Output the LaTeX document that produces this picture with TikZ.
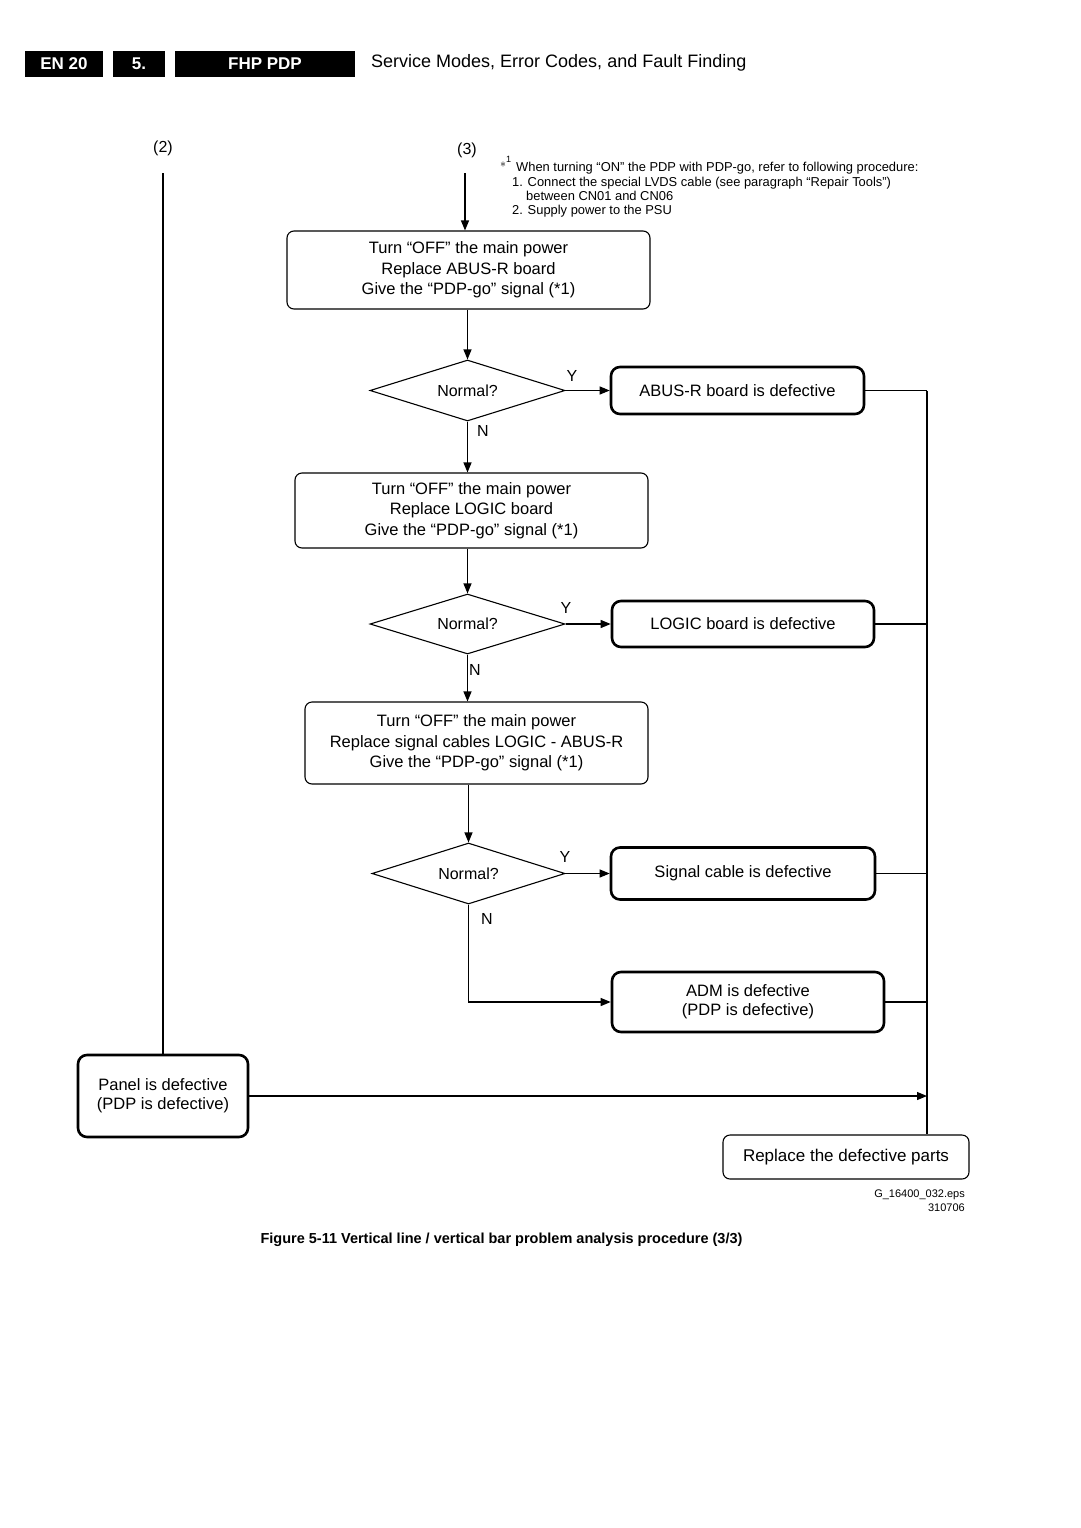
\documentclass[tikz,border=0pt]{standalone}
\usepackage{fontspec}
\setmainfont{Liberation Sans}
\usetikzlibrary{shapes.geometric,arrows.meta}
\tikzset{
  proc/.style={draw, rounded corners=7pt, line width=1.1pt, align=center, inner sep=0pt, font=\fontsize{16.5}{20.5}\selectfont},
  result/.style={draw, rounded corners=9pt, line width=2.6pt, align=center, inner sep=0pt, font=\fontsize{16.5}{19}\selectfont},
  decision/.style={draw, diamond, aspect=3.2, line width=1.1pt, inner sep=0pt, minimum width=195pt, minimum height=61pt, font=\fontsize{16}{19}\selectfont},
  arr/.style={-{Triangle[length=10pt,width=8pt]}, line width=1.1pt},
  ln/.style={line width=1.1pt},
  yn/.style={inner sep=0pt, font=\fontsize{16}{19}\selectfont},
  hdr/.style={fill=black, text=white, inner sep=0pt, minimum height=26pt, font=\fontsize{17}{19}\selectfont\bfseries},
  note/.style={inner sep=0pt, anchor=base west, font=\fontsize{12.9}{15}\selectfont},
}
\begin{document}
\begin{tikzpicture}[x=1pt,y=-1pt]
\fill [white] (0,0) rectangle (1080,1528);
\useasboundingbox (0,0) rectangle (1080,1528);
\node [hdr, minimum width=78pt] (en) at (64,64) {EN 20};
\node [hdr, minimum width=52pt] (sec) at (139,64) {5.};
\node [hdr, minimum width=180pt] (fhp) at (265,64) {FHP PDP};
\node [anchor=west, inner sep=0pt, font=\fontsize{18}{20}\selectfont] (title) at (371,63) {Service Modes, Error Codes, and Fault Finding};
\node [inner sep=0pt, font=\fontsize{13}{15}\selectfont] (star) at (506,162) {$\ast$\textsuperscript{1}};
\node [note] (fn1) at (516,171) {When turning “ON” the PDP with PDP-go, refer to following procedure:};
\node [note] (fn2) at (512,186) {1. Connect the special LVDS cable (see paragraph “Repair Tools”)};
\node [note] (fn3) at (526,200) {between CN01 and CN06};
\node [note] (fn4) at (512,214) {2. Supply power to the PSU};
\node [yn] (l2) at (163,148) {(2)};
\node [yn] (l3) at (467,150) {(3)};
\coordinate (s2) at (163,173);
\coordinate (s3) at (465,173);
\node [proc, minimum width=363pt, minimum height=78pt] (b1) at (468.5,270) {Turn “OFF” the main power\\Replace ABUS-R board\\Give the “PDP-go” signal (*1)};
\node [decision] (d1) at (467.5,390.5) {Normal?};
\node [result, minimum width=253pt, minimum height=47pt] (r1) at (737.5,390.5) {ABUS-R board is defective};
\node [proc, minimum width=353pt, minimum height=75pt] (b2) at (471.5,510.5) {Turn “OFF” the main power\\Replace LOGIC board\\Give the “PDP-go” signal (*1)};
\node [decision, minimum height=60pt] (d2) at (467.5,624) {Normal?};
\node [result, minimum width=262pt, minimum height=46pt] (r2) at (743,624) {LOGIC board is defective};
\node [proc, minimum width=343pt, minimum height=82pt] (b3) at (476.5,743) {Turn “OFF” the main power\\Replace signal cables LOGIC - ABUS-R\\Give the “PDP-go” signal (*1)};
\node [decision, minimum width=193pt] (d3) at (468.5,873.5) {Normal?};
\node [result, minimum width=264pt, minimum height=52pt] (r3) at (743,873.5) {Signal cable is defective};
\node [result, minimum width=272pt, minimum height=60pt] (r4) at (748,1002) {ADM is defective\\(PDP is defective)};
\node [result, minimum width=170pt, minimum height=82pt] (panel) at (163,1096) {Panel is defective\\(PDP is defective)};
\node [proc, minimum width=246pt, minimum height=44pt, font=\fontsize{17}{20}\selectfont] (fix) at (846,1157) {Replace the defective parts};
\node [yn] (y1) at (572,376) {Y};
\node [yn] (no1) at (483,431) {N};
\node [yn] (y2) at (566,608) {Y};
\node [yn] (no2) at (475,670) {N};
\node [yn] (y3) at (565,857) {Y};
\node [yn] (no3) at (487,919) {N};
\draw [ln] (s2) -- (panel.north);
\draw [arr] (s3) -- (s3 |- b1.north);
\draw [arr] (b1.south -| d1) -- (d1.north);
\draw [arr] (d1.east) -- (r1.west);
\draw [arr] (d1.south) -- (d1.south |- b2.north);
\draw [arr] (b2.south -| d2) -- (d2.north);
\draw [arr] (d2.east) -- (r2.west);
\draw [arr] (d2.south) -- (d2.south |- b3.north);
\draw [arr] (b3.south -| d3) -- (d3.north);
\draw [arr] (d3.east) -- (r3.west);
\draw [arr] (d3.south) |- (r4.west);
\coordinate (bus) at (927,390.5);
\draw [ln] (r1.east) -- (bus);
\draw [ln] (r2.east) -- (r2.east -| bus);
\draw [ln] (r3.east) -- (r3.east -| bus);
\draw [ln] (r4.east) -- (r4.east -| bus);
\draw [ln] (bus) -- (bus |- fix.north);
\draw [arr] (panel.east) -- (panel.east -| bus);
\node [inner sep=0pt, anchor=base east, font=\fontsize{11}{13}\selectfont] (eps) at (965,1197) {G\_16400\_032.eps};
\node [inner sep=0pt, anchor=base east, font=\fontsize{11}{13}\selectfont] (date) at (965,1211) {310706};
\node [inner sep=0pt, font=\fontsize{14.5}{17}\selectfont\bfseries] (cap) at (501.5,1240) {Figure 5-11 Vertical line / vertical bar problem analysis procedure (3/3)};
\end{tikzpicture}
\end{document}
